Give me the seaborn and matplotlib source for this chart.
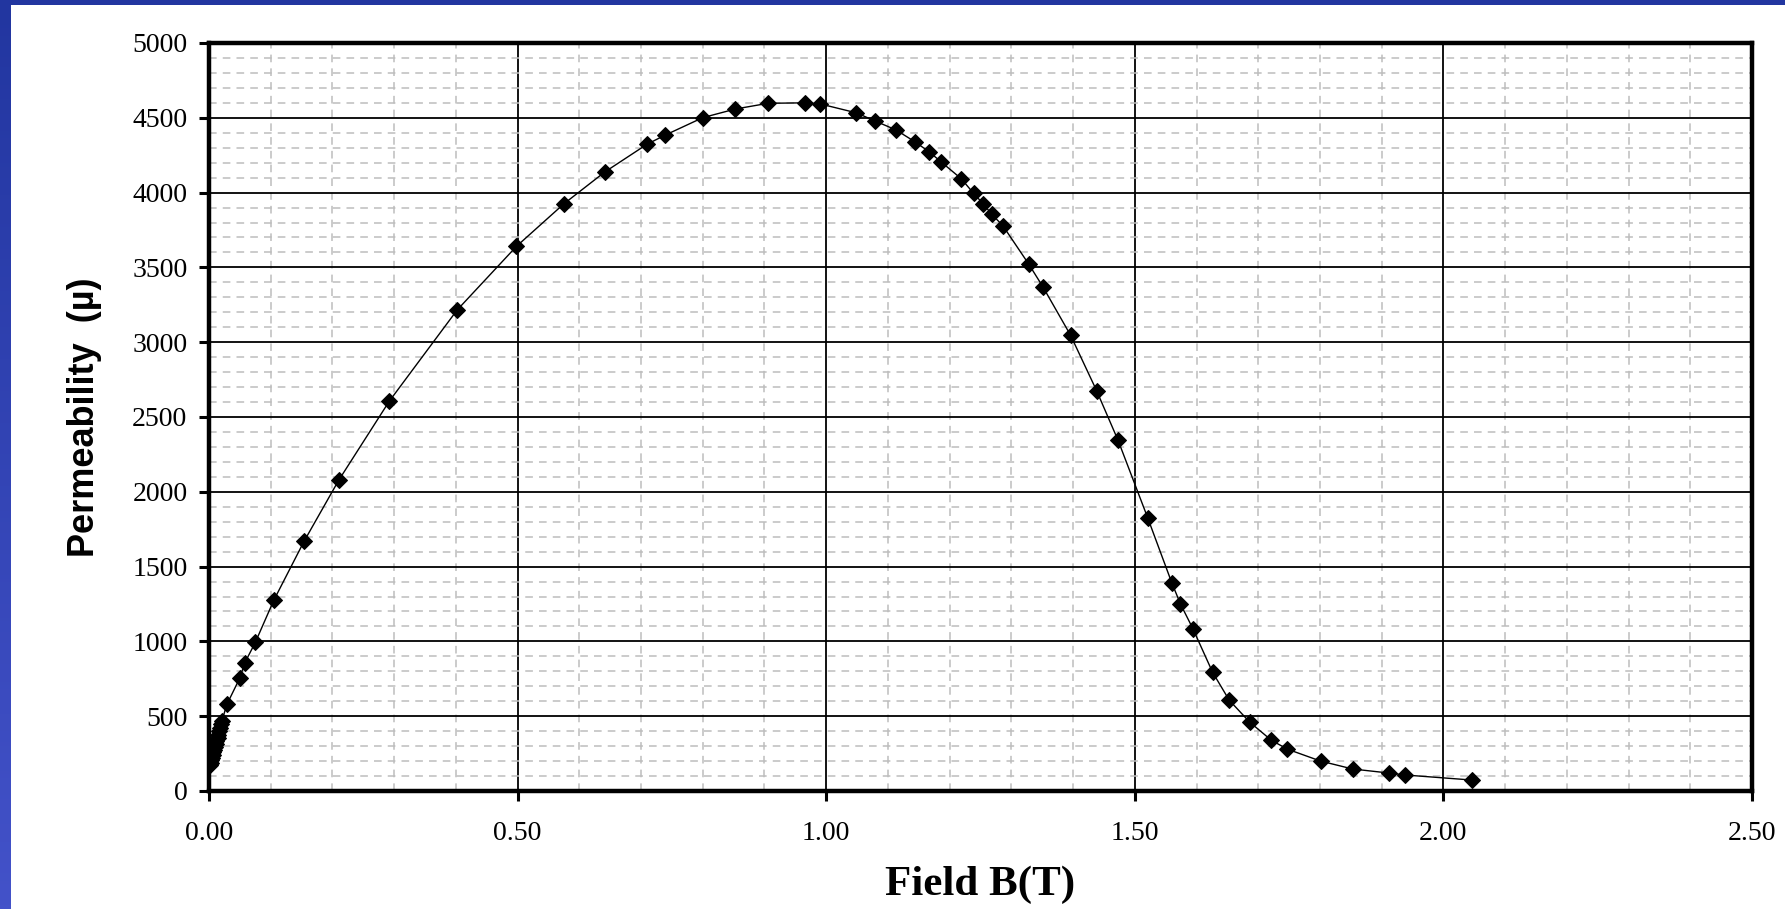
import numpy as np
import pandas as pd
import seaborn as sns
import matplotlib
matplotlib.use("Agg")
import matplotlib.pyplot as plt
from matplotlib.ticker import MultipleLocator, FormatStrFormatter

# ---- data ----
field_b = [0.002, 0.003, 0.004, 0.005, 0.006, 0.007, 0.008, 0.010, 0.011, 0.012,
           0.014, 0.015, 0.017, 0.018, 0.020, 0.021,
           0.029, 0.050, 0.058, 0.075, 0.105, 0.154, 0.210, 0.292, 0.402, 0.498,
           0.575, 0.641, 0.710, 0.739, 0.800, 0.853, 0.906, 0.965, 0.990, 1.049,
           1.079, 1.113, 1.144, 1.167, 1.186, 1.219, 1.239, 1.254, 1.268, 1.286,
           1.328, 1.351, 1.396, 1.438, 1.473, 1.521, 1.560, 1.574, 1.594, 1.626,
           1.653, 1.686, 1.721, 1.747, 1.801, 1.853, 1.912, 1.938, 2.047]
permeability = [175, 190, 205, 222, 240, 258, 275, 295, 315, 335,
                 355, 375, 398, 420, 445, 470,
                 579, 756, 857, 993, 1275, 1669, 2076, 2605, 3215, 3640,
                 3925, 4137, 4324, 4384, 4501, 4559, 4597, 4600, 4593, 4533,
                 4479, 4419, 4339, 4272, 4206, 4092, 3994, 3927, 3856, 3780,
                 3523, 3371, 3046, 2677, 2343, 1825, 1391, 1250, 1086, 794,
                 607, 461, 340, 280, 200, 147, 120, 107, 73]
x_ticks = [0.0, 0.5, 1.0, 1.5, 2.0, 2.5]
y_ticks = [0, 500, 1000, 1500, 2000, 2500, 3000, 3500, 4000, 4500, 5000]
x_label = "Field B(T)"
y_label = "Permeability  (\u00b5)"

df = pd.DataFrame({"B": field_b, "mu": permeability})

sns.set_theme(style="white")
plt.rcParams["font.family"] = ["Liberation Serif", "DejaVu Serif"]
plt.rcParams["text.color"] = "black"
plt.rcParams["axes.labelcolor"] = "black"

W, H = 1785, 909
fig = plt.figure(figsize=(W / 100, H / 100), dpi=100)
fig.patch.set_facecolor("white")

# blue slide border (top and left strips with vertical gradient)
grad = np.linspace(0, 1, 256).reshape(-1, 1)
cmap = matplotlib.colors.LinearSegmentedColormap.from_list("b", ["#2236a0", "#4352c9"])
bl = fig.add_axes([0, 0, 10 / W, 1])
bl.imshow(grad, aspect="auto", cmap=cmap, extent=[0, 1, 1, 0])
bl.set_axis_off()
bt = fig.add_axes([0, 1 - 5 / H, 1, 5 / H])
bt.imshow(np.zeros((1, 2)), aspect="auto", cmap=matplotlib.colors.ListedColormap(["#2236a0"]))
bt.set_axis_off()

left, right, top, bottom = 209 / W, 1752 / W, 43 / H, 791 / H
ax = fig.add_axes([left, 1 - bottom, right - left, bottom - top])
ax.set_facecolor("white")

sns.lineplot(data=df, x="B", y="mu", ax=ax, color="black", linewidth=1.0,
             marker="D", markersize=8.5, markeredgecolor="black",
             markerfacecolor="black", estimator=None, sort=False, zorder=5)

ax.set_xlim(0, 2.5)
ax.set_ylim(0, 5000)
ax.set_xticks(x_ticks)
ax.set_yticks(y_ticks)
ax.xaxis.set_major_formatter(FormatStrFormatter("%.2f"))
ax.xaxis.set_minor_locator(MultipleLocator(0.1))
ax.yaxis.set_minor_locator(MultipleLocator(100))

ax.set_axisbelow(True)
ax.grid(which="minor", color="#bdbdbd", linestyle=(0, (5, 4)), linewidth=1.1)
ax.grid(which="major", color="black", linestyle="-", linewidth=1.3)

for s in ax.spines.values():
    s.set_visible(True)
    s.set_color("black")
    s.set_linewidth(3.2)

ax.tick_params(axis="both", which="major", direction="out", length=7.5, width=2.2,
               color="black", labelsize=20, labelcolor="black")
ax.tick_params(axis="y", which="major", pad=8)
ax.tick_params(axis="x", which="major", pad=14, bottom=True)
ax.tick_params(axis="y", left=True)
ax.tick_params(which="minor", length=0)

ax.set_xlabel(x_label, fontsize=31, fontweight="bold", family=["Liberation Serif"],
              labelpad=14, color="black")
ax.set_ylabel(y_label, fontsize=26, fontweight="bold",
              family=["Liberation Sans", "DejaVu Sans"], labelpad=22, color="black")

fig.savefig("out.png", dpi=100, facecolor="white")
